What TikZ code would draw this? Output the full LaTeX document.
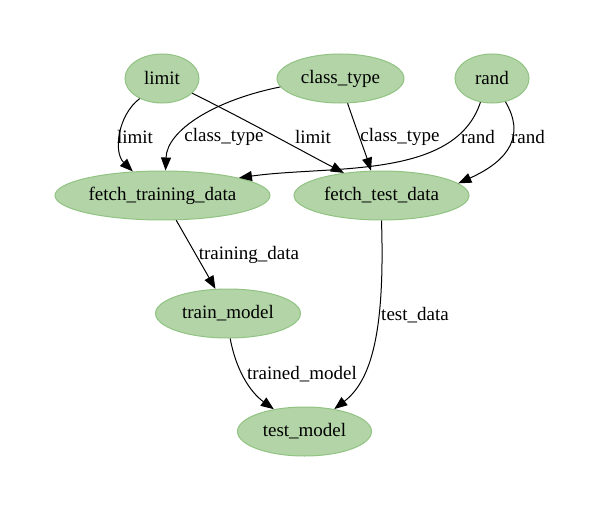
\documentclass[tikz,border=0pt]{standalone}
\usepackage{fontspec}
\setmainfont{Liberation Serif}
\usetikzlibrary{arrows.meta,shapes.geometric}
\definecolor{nodefill}{RGB}{178,212,167}
\definecolor{nodeline}{RGB}{145,195,130}
\begin{document}
\begin{tikzpicture}[x=1pt,y=-1pt,
  every node/.style={font=\fontsize{19}{22}\selectfont, inner sep=0pt},
  task/.style={ellipse, draw=nodeline, fill=nodefill, line width=1pt, minimum height=49pt},
  edge/.style={draw=black, line width=1pt, -{Triangle[length=13pt,width=10pt]}},
  lbl/.style={anchor=center}
]
\useasboundingbox (0,0) rectangle (600,511);
\node[task, minimum width=74pt]  (limit) at (162,78.5) {limit};
\node[task, minimum width=127pt] (class) at (340.5,78.5) {class\_type};
\node[task, minimum width=74pt]  (rand)  at (492,78.5) {rand};
\node[task, minimum width=215pt] (ftrain) at (162.5,195.5) {fetch\_training\_data};
\node[task, minimum width=175pt] (ftest)  at (381.5,195.5) {fetch\_test\_data};
\node[task, minimum width=145pt] (train)  at (228,313.5) {train\_model};
\node[task, minimum width=134pt] (test)   at (304.5,431.5) {test\_model};

\draw[edge] (limit.222) .. controls (118,115) and (113,152) .. (ftrain.141);
\draw[edge] (class.188) .. controls (215,100) and (167,130) .. (ftrain.83);
\draw[edge] (limit.334) .. controls (250,122) and (300,150) .. (ftest.149);
\draw[edge] (class.286) .. controls (356,128) and (366,155) .. (ftest.113);
\draw[edge] (rand.244) .. controls (455,180) and (330,165) .. (ftrain.13);
\draw[edge] (rand.300) .. controls (525,135) and (510,160) .. (ftest.9);
\draw[edge] (ftrain.299) -- (train.117);
\draw[edge] (ftest.270) .. controls (385,330) and (372,380) .. (test.37);
\draw[edge] (train.275) .. controls (236,370) and (250,392) .. (test.144);

\node[lbl] (l1) at (135,137) {limit};
\node[lbl] (l2) at (224,137) {class\_type};
\node[lbl] (l3) at (313,137) {limit};
\node[lbl] (l4) at (400,137) {class\_type};
\node[lbl] (l5) at (478,137) {rand};
\node[lbl] (l6) at (528,137) {rand};
\node[lbl] (l7) at (249,255) {training\_data};
\node[lbl] (l8) at (415,315) {test\_data};
\node[lbl] (l9) at (302,374) {trained\_model};
\end{tikzpicture}
\end{document}
